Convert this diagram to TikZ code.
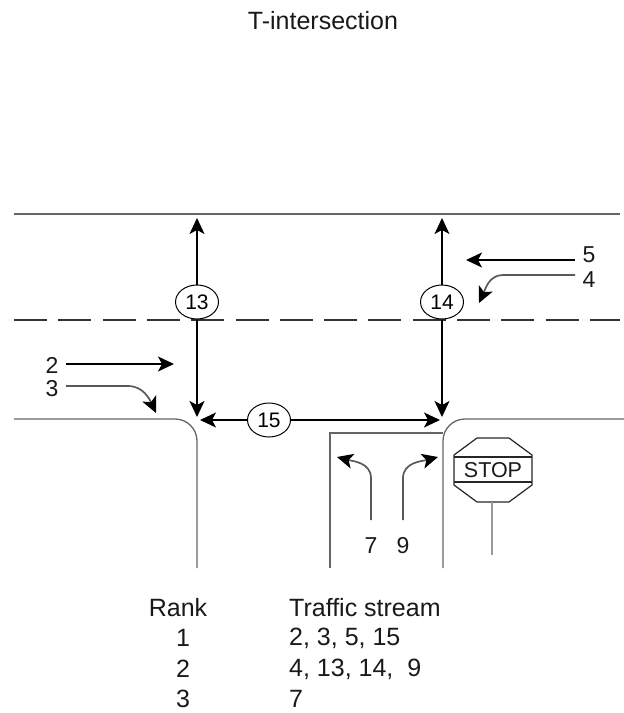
\documentclass[tikz,border=0pt]{standalone}
\usepackage{fontspec}
\setmainfont{Liberation Sans}
\usetikzlibrary{arrows.meta,positioning,shapes.geometric}

\begin{document}
\begin{tikzpicture}[
  x=1pt, y=-1pt,
  road/.style={draw=black!60, line width=1.3pt},
  arr/.style={-{Stealth[length=16pt,width=15pt,inset=4pt]}, line width=1.4pt},
  turn/.style={-{Stealth[length=16pt,width=15pt,inset=4pt,color=black]}, line width=1.7pt, draw=black!65},
  stream/.style={draw, ellipse, fill=white, line width=1pt, minimum width=43pt, minimum height=34pt, inner sep=0pt, font=\fontsize{21}{24}\selectfont},
  lbl/.style={font=\fontsize{25}{28}\selectfont, inner sep=0pt, text=black!90},
  num/.style={lbl, font=\fontsize{23}{26}\selectfont},
  rowl/.style={lbl, anchor=west}
]
\useasboundingbox (0,0) rectangle (624,713);
\node[lbl] (title) at (323,21) {T-intersection};

\coordinate (tl) at (14,214);
\coordinate (tr) at (620,214);
\coordinate (ml) at (14,320);
\coordinate (mr) at (620,320);
\draw[road] (tl) -- (tr);
\draw[road, draw=black!80, dash pattern=on 33pt off 11.3pt] (ml) -- (mr);
\draw[road] (14,419) -- (175,419) to[out=0,in=90] (197,441) -- (197,568);
\draw[road] (624,419) -- (465,419) to[out=180,in=90] (443,441) -- (443,568);
\draw[road] (330,568) -- (330,433) -- (443,433);

\node[stream] (n13) at (197,302) {13};
\node[stream] (n14) at (442,302) {14};
\node[stream] (n15) at (269,420) {15};
\coordinate (up13) at (197,218);
\coordinate (up14) at (442,218);
\coordinate (dn13) at (197,417);
\coordinate (dn14) at (442,417);
\coordinate (lf15) at (200,420);
\coordinate (rt15) at (440,420);
\draw[arr] (n13)--(up13);
\draw[arr] (n13)--(dn13);
\draw[arr] (n14)--(up14);
\draw[arr] (n14)--(dn14);
\draw[arr] (n15)--(lf15);
\draw[arr] (n15)--(rt15);

\node[num] (s2) at (52,365) {2};
\node[num] (s3) at (52,389) {3};
\node[num] (s5) at (589,255) {5};
\node[num] (s4) at (589,280) {4};
\node[num] (s7) at (371,546) {7};
\node[num] (s9) at (403,546) {9};
\coordinate (e2) at (174,364);
\coordinate (e3) at (156,413);
\coordinate (e5) at (466,260);
\coordinate (e4) at (479,303);
\coordinate (e7) at (337,457);
\coordinate (e9) at (438,457);
\draw[arr] (66,364) -- (e2);
\draw[turn] (66,386) -- (128,386) to[out=0,in=115] (e3);
\draw[arr] (575,260) -- (e5);
\draw[turn] (575,275) -- (503,275) to[out=180,in=65] (e4);
\draw[turn] (371,520) -- (371,478) to[out=90,in=-15] (e7);
\draw[turn] (403,520) -- (403,478) to[out=90,in=195] (e9);

\draw[line width=1.2pt, black!85] (477,438) -- (509,438) -- (532,455) -- (532,485) -- (509,502) -- (477,502) -- (454,485) -- (454,455) -- cycle;
\draw[line width=1.2pt, black!85] (454,457) -- (532,457);
\draw[line width=1.2pt, black!85] (454,482) -- (532,482);
\node[lbl, font=\fontsize{21.5}{24}\selectfont] (stop) at (493,470) {STOP};
\coordinate (poletop) at (492,502);
\coordinate (polebot) at (492,555);
\draw[draw=black!40, line width=2.4pt] (poletop) -- (polebot);

\node[lbl] (rank) at (178,608) {Rank};
\node[lbl] (r1) at (183,638) {1};
\node[lbl] (r2) at (183,669) {2};
\node[lbl] (r3) at (183,699) {3};
\node[rowl] (tsh) at (289,608) {Traffic stream};
\node[rowl] (ts1) at (289,638) {2, 3, 5, 15};
\node[rowl] (ts2) at (289,669) {4, 13, 14,\ \ 9};
\node[rowl] (ts3) at (289,699) {7};
\end{tikzpicture}
\end{document}
